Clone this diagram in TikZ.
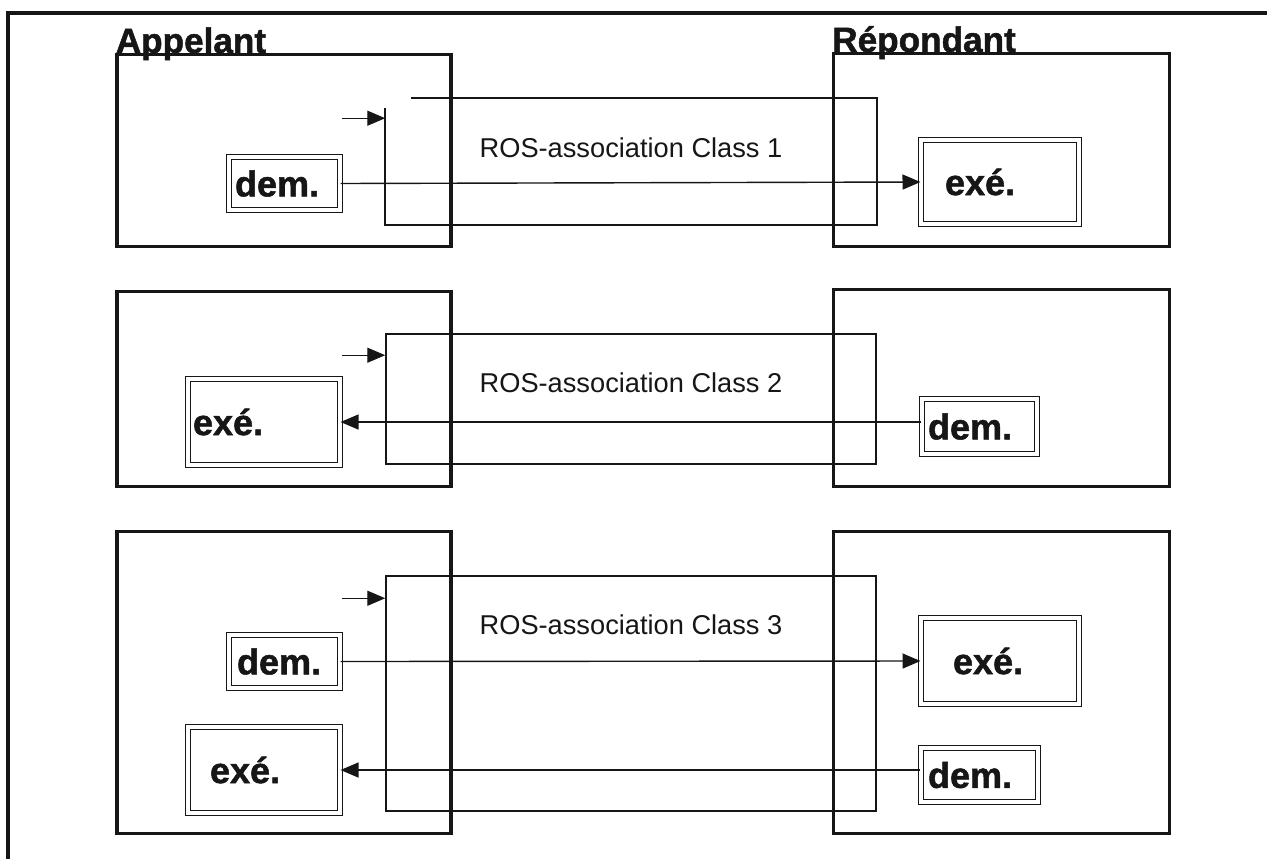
\documentclass[tikz,border=0pt]{standalone}
\usepackage{fontspec}
\setmainfont{Liberation Sans}
\newfontfamily\heavysans[FakeBold=1.4]{Liberation Sans Bold}
\usepackage{tikz}
\usetikzlibrary{arrows.meta,positioning,calc}
\definecolor{inkBlack}{RGB}{22,22,22}
\tikzset{
    sidebox/.style={rectangle, draw=inkBlack, line width=1.8pt, inner sep=0pt},
    assocbox/.style={rectangle, draw=inkBlack, line width=0.9pt,
        minimum width=9.8cm, inner sep=0pt},
    rolebox/.style={rectangle, draw=inkBlack, line width=0.6pt, double,
        double distance=2.2pt, align=left, inner ysep=0pt, text=inkBlack,
        font=\fontsize{20.5}{24}\heavysans},
    sidetitle/.style={anchor=base west, inner sep=0pt, text=inkBlack,
        font=\fontsize{20}{24}\heavysans},
    assoclabel/.style={text=inkBlack, font=\fontsize{15.5}{18}\selectfont},
    frameline/.style={draw=inkBlack, line width=1.8pt},
    assocline/.style={draw=inkBlack, line width=0.9pt},
    arr/.style={-{Triangle[length=0.36cm,width=0.3cm]}, line width=0.8pt, draw=inkBlack},
}

\begin{document}
\begin{tikzpicture}[x=0.02cm, y=-0.02cm]
\useasboundingbox (0,0) rectangle (1267,859);

% Outer frame
\draw[frameline] (8,859) -- (8,13) -- (1267,13);

% Row 1
\node[sidebox, minimum width=6.68cm, minimum height=3.84cm] (app1) at (284,150.5) {};
\node[sidebox, minimum width=6.72cm, minimum height=3.86cm] (rep1) at (1001.5,150) {};
\node[sidetitle] at (app1.north west) {Appelant};
\node[sidetitle] at (rep1.north west) {Répondant};
\node[assocbox, draw=none, minimum height=2.5cm] (assoc1) at (631,161.5) {};
\draw[assocline] ([xshift=0.52cm]assoc1.north west) -- (assoc1.north east)
    -- (assoc1.south east) -- (assoc1.south west) -- ([yshift=-0.2cm]assoc1.north west);
\node[assoclabel] at ([yshift=-1.0cm]assoc1.north) {ROS-association Class 1};
\node[rolebox, text width=1.98cm, inner xsep=0.12cm, minimum height=1.06cm] (dem1) at (284.5,183.5) {dem.};
\node[rolebox, text width=2.2cm, inner xsep=0.48cm, minimum height=1.68cm] (exe1) at (1000,182) {exé.};

% Row 2
\node[sidebox, minimum width=6.68cm, minimum height=3.9cm] (app2) at (284,389) {};
\node[sidebox, minimum width=6.72cm, minimum height=3.94cm] (rep2) at (1001.5,388) {};
\node[assocbox, minimum height=2.6cm] (assoc2) at (631,399) {};
\node[assoclabel] at ([yshift=-1.0cm]assoc2.north) {ROS-association Class 2};
\node[rolebox, text width=2.84cm, inner xsep=0.1cm, minimum height=1.72cm] (exe2) at (264,422) {exé.};
\node[rolebox, text width=2.06cm, inner xsep=0.12cm, minimum height=1.1cm] (dem2) at (979.5,426.5) {dem.};

% Row 3
\node[sidebox, minimum width=6.68cm, minimum height=6.04cm] (app3) at (284,682.5) {};
\node[sidebox, minimum width=6.72cm, minimum height=6.04cm] (rep3) at (1001.5,682.5) {};
\node[assocbox, minimum height=4.7cm] (assoc3) at (631,693.5) {};
\node[assoclabel] at ([yshift=-1.0cm]assoc3.north) {ROS-association Class 3};
\node[rolebox, text width=1.9cm, inner xsep=0.16cm, minimum height=1.06cm] (dem3) at (284.5,661.5) {dem.};
\node[rolebox, text width=1.88cm, inner xsep=0.64cm, minimum height=1.72cm] (exe3) at (1000,661) {exé.};
\node[rolebox, text width=2.16cm, inner xsep=0.44cm, minimum height=1.72cm] (exe4) at (264,770) {exé.};
\node[rolebox, text width=2.06cm, inner xsep=0.14cm, minimum height=1.08cm] (dem4) at (979.5,775) {dem.};

% Entry arrows
\coordinate (in1) at ([xshift=-0.86cm,yshift=-0.4cm]assoc1.north west);
\coordinate (in2) at ([xshift=-0.86cm,yshift=-0.44cm]assoc2.north west);
\coordinate (in3) at ([xshift=-0.86cm,yshift=-0.46cm]assoc3.north west);
\draw[arr] (in1) -- (in1 -| assoc1.west);
\draw[arr] (in2) -- (in2 -| assoc2.west);
\draw[arr] (in3) -- (in3 -| assoc3.west);

% Invocations
\draw[arr] (dem1.east) -- (exe1.west);
\draw[arr] (dem2.west |- exe2.east) -- (exe2.east);
\draw[arr] (dem3.east) -- (exe3.west);
\draw[arr] (dem4.west |- exe4.east) -- (exe4.east);

\end{tikzpicture}
\end{document}
